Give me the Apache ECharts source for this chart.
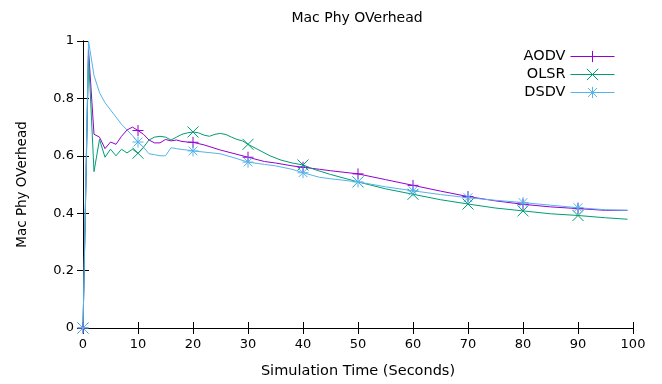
<!DOCTYPE html>
<html>
<head>
<meta charset="utf-8">
<script src="https://cdn.jsdelivr.net/npm/echarts@6/dist/echarts.min.js"></script>
<style>
  html, body { margin: 0; padding: 0; background: #fff; }
  #chart { width: 662px; height: 384px; }
</style>
</head>
<body>
<div id="chart"></div>
<script>
// 数据：横坐标（秒）与各协议的开销值
const aodvX = [0, 1, 2, 3, 4, 5, 6, 7, 8, 9, 10, 11, 12, 13, 14, 15, 16, 17, 18, 19, 20, 22, 25, 28, 30, 33, 35, 38, 40, 43, 45, 50, 55, 60, 65, 70, 75, 80, 85, 90, 95, 99];
const aodvY = [0, 0.97, 0.675, 0.665, 0.625, 0.648, 0.64, 0.668, 0.69, 0.70, 0.688, 0.675, 0.655, 0.645, 0.645, 0.657, 0.652, 0.655, 0.65, 0.648, 0.647, 0.638, 0.62, 0.605, 0.595, 0.58, 0.575, 0.565, 0.56, 0.553, 0.548, 0.537, 0.517, 0.497, 0.477, 0.458, 0.443, 0.431, 0.422, 0.416, 0.41, 0.41];

const olsrX = [0, 1, 2, 3, 4, 5, 6, 7, 8, 9, 10, 11, 12, 13, 14, 15, 16, 17, 18, 19, 20, 21, 22, 23, 24, 25, 26, 27, 28, 29, 30, 32, 34, 36, 38, 40, 42, 45, 50, 55, 60, 65, 70, 75, 80, 85, 90, 95, 99];
const olsrY = [0, 0.95, 0.545, 0.657, 0.595, 0.623, 0.6, 0.623, 0.61, 0.623, 0.609, 0.63, 0.655, 0.665, 0.668, 0.665, 0.655, 0.665, 0.675, 0.68, 0.683, 0.68, 0.672, 0.668, 0.675, 0.678, 0.674, 0.665, 0.657, 0.652, 0.64, 0.62, 0.6, 0.585, 0.575, 0.568, 0.553, 0.535, 0.509, 0.485, 0.466, 0.447, 0.432, 0.418, 0.408, 0.398, 0.392, 0.384, 0.379];

const dsdvX = [0, 1, 2, 3, 4, 5, 6, 7, 8, 9, 10, 11, 12, 13, 14, 15, 16, 17, 18, 19, 20, 22, 25, 28, 30, 33, 35, 38, 40, 43, 45, 50, 55, 60, 65, 70, 75, 80, 85, 90, 95, 99];
const dsdvY = [0, 1.0, 0.88, 0.82, 0.785, 0.76, 0.735, 0.71, 0.69, 0.67, 0.648, 0.63, 0.607, 0.604, 0.6, 0.6, 0.628, 0.625, 0.622, 0.62, 0.617, 0.613, 0.607, 0.59, 0.578, 0.57, 0.565, 0.553, 0.541, 0.525, 0.52, 0.509, 0.492, 0.478, 0.465, 0.454, 0.445, 0.437, 0.428, 0.419, 0.412, 0.41];

const xTicks = [0, 10, 20, 30, 40, 50, 60, 70, 80, 90, 100];
const yTicks = [0, 0.2, 0.4, 0.6, 0.8, 1];

const FONT = 'DejaVu Sans';
const colors = ['#9400d3', '#009e73', '#56b4e9'];

// 点形状：+ / x / *
const PLUS = 'path://M0,5H10M5,0V10';
const CROSS = 'path://M0,0L10,10M10,0L0,10';
const STAR = 'path://M0,5H10M5,0V10M1,1L9,9M9,1L1,9';

const makeData = (xs, ys, sym) => xs.map((x, i) => ({
  value: [x, ys[i]],
  symbol: x % 10 === 0 ? sym : 'none',
}));

const lineSeries = (name, xs, ys, sym, color) => ({
  name,
  type: 'line',
  data: makeData(xs, ys, sym),
  symbol: sym,
  symbolSize: 11,
  showAllSymbol: true,
  clip: false,
  lineStyle: { color, width: 1 },
  itemStyle: { color, borderColor: color, borderWidth: 1 },
  emphasis: { disabled: true },
  animation: false,
});

// 每行一个图例，右对齐文字；图标沿用折线自身的线加点
const legendRow = (name, top) => ({
  data: [name],
  orient: 'vertical',
  right: 47,
  top,
  padding: 0,
  align: 'right',
  itemWidth: 44,
  itemHeight: 14,
  itemStyle: { borderWidth: 1 },
  lineStyle: { width: 1 },
  textStyle: { fontFamily: FONT, fontSize: 14.5, color: '#000' },
  selectedMode: false,
});

const baseX = {
  type: 'value',
  min: 0,
  max: 100,
  interval: 10,
  axisLine: { show: true, lineStyle: { color: '#000', width: 1 } },
  axisTick: { show: true, inside: true, length: 6, lineStyle: { color: '#000' } },
  splitLine: { show: false },
};
const baseY = {
  type: 'value',
  min: 0,
  max: 1,
  interval: 0.2,
  axisLine: { show: true, lineStyle: { color: '#000', width: 1 } },
  axisTick: { show: true, inside: true, length: 6, lineStyle: { color: '#000' } },
  splitLine: { show: false },
};

const chart = echarts.init(document.getElementById('chart'), null, { renderer: 'canvas' });
chart.setOption({
  animation: false,
  backgroundColor: '#fff',
  title: {
    text: 'Mac Phy OVerhead',
    left: 352,
    top: 6,
    textAlign: 'center',
    textStyle: { fontFamily: FONT, fontSize: 14, fontWeight: 'normal', color: '#000' },
  },
  legend: [
    legendRow('AODV', 49),
    legendRow('OLSR', 67),
    legendRow('DSDV', 85),
  ],
  grid: { left: 83, right: 29, top: 41, bottom: 55 },
  xAxis: [
    {
      ...baseX,
      position: 'bottom',
      name: 'Simulation Time (Seconds)',
      nameLocation: 'middle',
      nameGap: 36,
      nameTextStyle: { fontFamily: FONT, fontSize: 14.5, color: '#000' },
      axisLabel: {
        fontFamily: FONT, fontSize: 13, color: '#000', margin: 10,
        customValues: xTicks,
      },
    },
    { ...baseX, position: 'top', axisLabel: { show: false } },
  ],
  yAxis: [
    {
      ...baseY,
      position: 'left',
      name: 'Mac Phy OVerhead',
      nameLocation: 'middle',
      nameGap: 54,
      nameTextStyle: { fontFamily: FONT, fontSize: 13.5, color: '#000' },
      axisLabel: {
        fontFamily: FONT, fontSize: 13, color: '#000', margin: 9,
        formatter: (v) => String(+v.toFixed(1)),
        customValues: yTicks,
      },
    },
    { ...baseY, position: 'right', axisLabel: { show: false } },
  ],
  series: [
    lineSeries('AODV', aodvX, aodvY, PLUS, colors[0]),
    lineSeries('OLSR', olsrX, olsrY, CROSS, colors[1]),
    lineSeries('DSDV', dsdvX, dsdvY, STAR, colors[2]),
  ],
});
</script>
</body>
</html>
